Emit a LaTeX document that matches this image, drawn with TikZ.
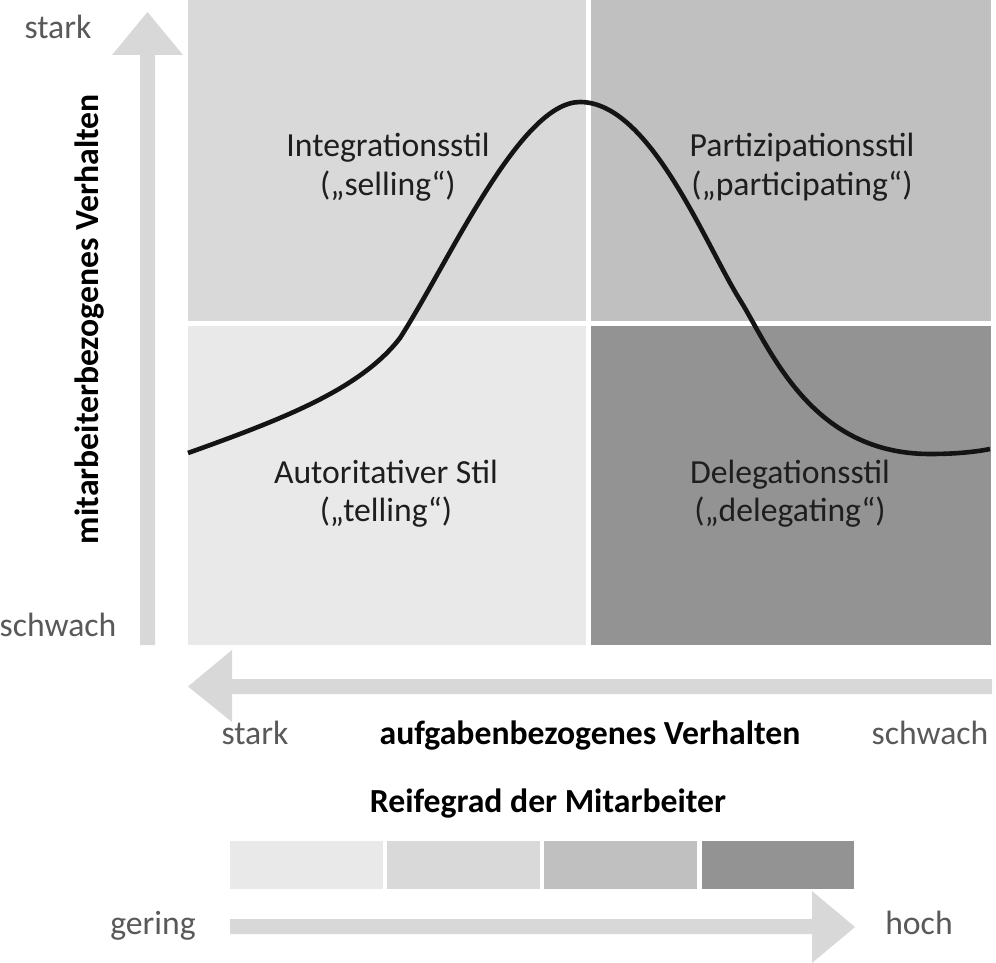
\documentclass[tikz,border=0pt]{standalone}
\usepackage{fontspec}
\setmainfont{Carlito}
\definecolor{qTL}{HTML}{D9D9D9}
\definecolor{qTR}{HTML}{C0C0C0}
\definecolor{qBL}{HTML}{E9E9E9}
\definecolor{qBR}{HTML}{939393}
\definecolor{arrowgray}{HTML}{D8D8D8}
\definecolor{labelgray}{HTML}{595959}
\definecolor{quadtext}{HTML}{1E1E1E}
\begin{document}
\begin{tikzpicture}[x=1pt,y=-1pt,
  txt/.style={inner sep=0pt, anchor=base, text=quadtext, font=\fontsize{33.7}{40}\selectfont},
  graytxt/.style={txt, text=labelgray},
  boldtxt/.style={txt, font=\fontsize{33.7}{40}\selectfont\bfseries, text=black},
  bigarrow/.style={fill=arrowgray, draw=none},
  curve/.style={line width=4.6pt, color=black!92, line cap=butt, line join=round}]
\useasboundingbox (0,0) rectangle (996,963);
% quadrants
\fill[qTL] (188,0) rectangle (586,321);
\fill[qTR] (591,0) rectangle (991,321);
\fill[qBL] (188,326) rectangle (586,645);
\fill[qBR] (591,326) rectangle (991,645);
% axis arrows
\fill[bigarrow] (140,645) -- (140,55) -- (112,55) -- (147.5,12) -- (183,55) -- (155,55) -- (155,645) -- cycle;
\fill[bigarrow] (992,679) -- (232,679) -- (232,650) -- (188,686.5) -- (232,722) -- (232,694) -- (992,694) -- cycle;
% curve
\coordinate (c0) at (188,453);
\coordinate (c1) at (400,338);
\coordinate (c2) at (580,102);
\coordinate (c3) at (740,300);
\coordinate (c4) at (930,454);
\coordinate (c5) at (990,449);
\draw[curve] (c0) .. controls (280,420) and (360,390) .. (c1)
  .. controls (450,260) and (520,102) .. (c2)
  .. controls (650,102) and (705,244) .. (c3)
  .. controls (770,348) and (810,454) .. (c4)
  .. controls (955,454) and (975,452) .. (c5);
% quadrant labels
\node[txt] (tl1) at (388,157) {Integrationsstil};
\node[txt] (tl2) at (388,195) {(„selling“)};
\node[txt] (tr1) at (802,157) {Partizipationsstil};
\node[txt] (tr2) at (802,195) {(„participating“)};
\node[txt] (bl1) at (386,483) {Autoritativer Stil};
\node[txt] (bl2) at (386,521) {(„telling“)};
\node[txt] (br1) at (790,483) {Delegationsstil};
\node[txt] (br2) at (790,521) {(„delegating“)};
% axis labels
\node[graytxt] (ystark) at (58,39) {stark};
\node[graytxt] (yschwach) at (58,636) {schwach};
\node[boldtxt, rotate=90, anchor=center] (ylabel) at (90,319) {mitarbeiterbezogenes Verhalten};
\node[graytxt] (xstark) at (255,744) {stark};
\node[boldtxt] (xlabel) at (590,744) {aufgabenbezogenes Verhalten};
\node[graytxt] (xschwach) at (930,744) {schwach};
% maturity
\node[boldtxt] (reife) at (548,812) {Reifegrad der Mitarbeiter};
\fill[qBL] (230,841) rectangle (382.5,889);
\fill[qTL] (387.2,841) rectangle (539.7,889);
\fill[qTR] (544.4,841) rectangle (696.9,889);
\fill[qBR] (701.6,841) rectangle (854,889);
\fill[bigarrow] (230,919) -- (812,919) -- (812,891) -- (855,927) -- (812,963) -- (812,934) -- (230,934) -- cycle;
\node[graytxt] (gering) at (153,934) {gering};
\node[graytxt] (hoch) at (919,934) {hoch};
\end{tikzpicture}
\end{document}
